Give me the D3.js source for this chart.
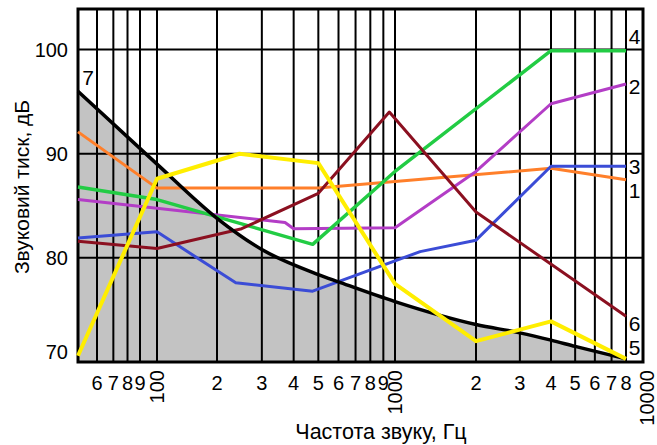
<!DOCTYPE html>
<html><head><meta charset="utf-8">
<script src="https://cdn.jsdelivr.net/npm/d3@7"></script>
<style>
body{margin:0;background:#fff}
text{font-family:"Liberation Sans",Arial,sans-serif;fill:#000}
</style>
</head><body>
<svg id="chart" width="657" height="445"></svg>
<script>
// ---- data ----
const seriesNames = ["1","2","3","4","5","6","7"];
const s1Freq = [50,100,500,4000,8000];
const s1Db   = [92.1,86.7,86.7,88.6,87.5];
const s2Freq = [50,370,400,1000,2000,4000,8000];
const s2Db   = [85.6,83.4,82.8,82.9,88.3,94.8,96.7];
const s3Freq = [50,100,237,475,1240,2000,4000,8000];
const s3Db   = [81.9,82.5,77.6,76.8,80.6,81.7,88.8,88.8];
const s4Freq = [50,100,475,1000,4000,8000];
const s4Db   = [86.8,85.6,81.3,88.3,99.9,99.9];
const s5Freq = [50,100,245,500,1000,2000,4000,8000];
const s5Db   = [70.6,87.6,90.0,89.1,77.5,72.0,73.9,70.3];
const s6Freq = [50,100,250,500,950,2000,8000];
const s6Db   = [81.6,80.9,82.8,86.2,94.0,84.4,74.4];
const s7Freq = [50,100,200,300,500,600,1000,2000,3000,4000,5000,8000];
const s7Db   = [96.0,89.0,83.8,80.8,78.4,77.7,75.8,73.6,72.8,72.1,71.5,70.3];

const xTickValues = [60,70,80,90,100,200,300,400,500,600,700,800,900,1000,2000,3000,4000,5000,6000,7000,8000,10000];
const xTickLabels = ["6","7","8","9","100","2","3","4","5","6","7","8","9","1000","2","3","4","5","6","7","8","10000"];
const yTickValues = [70,80,90,100];
const yTickLabels = ["70","80","90","100"];
const xTitle = "Частота звуку, Гц";
const yTitle = "Звуковий тиск, дБ";

// ---- scales (hand-drawn log grid, piecewise log) ----
const x = d3.scaleLog()
  .domain([50,60,90,100,200,1000,2000,8000,10000])
  .range([78,97,140,157,217,395,476,626,643]);
const y = d3.scaleLinear().domain([70,103.9]).range([362,9]);

const svg = d3.select("#chart");
const toPts = (f,v) => f.map((d,i)=>({f:d,v:v[i]}));

// gray area under curve 7
const s7 = toPts(s7Freq,s7Db);
svg.append("path").datum(s7)
  .attr("fill","#c3c3c3")
  .attr("d", d3.area().x(d=>x(d.f)).y0(y(70)).y1(d=>y(d.v)).curve(d3.curveMonotoneX));

// grid
const g = svg.append("g").attr("stroke","#000").attr("stroke-width",2);
g.selectAll("line.v").data(xTickValues.filter(v=>v<10000)).join("line")
  .attr("x1",d=>x(d)).attr("x2",d=>x(d)).attr("y1",y(103.9)).attr("y2",y(70));
g.selectAll("line.h").data([80,90,100]).join("line")
  .attr("x1",x(50)).attr("x2",x(10000)).attr("y1",d=>y(d)).attr("y2",d=>y(d));
svg.append("rect").attr("x",x(50)).attr("y",y(103.9))
  .attr("width",x(10000)-x(50)).attr("height",y(70)-y(103.9))
  .attr("fill","none").attr("stroke","#000").attr("stroke-width",3);

// series
const line = d3.line().x(d=>x(d.f)).y(d=>y(d.v));
const series = [
  {pts:toPts(s1Freq,s1Db), color:"#ff7f2a", w:3},
  {pts:toPts(s2Freq,s2Db), color:"#b33dc6", w:3},
  {pts:toPts(s3Freq,s3Db), color:"#3b4cd6", w:3},
  {pts:toPts(s4Freq,s4Db), color:"#22cc44", w:3.5},
  {pts:toPts(s6Freq,s6Db), color:"#8b1020", w:3},
];
series.forEach(s=>{
  svg.append("path").datum(s.pts).attr("fill","none")
    .attr("stroke",s.color).attr("stroke-width",s.w)
    .attr("stroke-linejoin","round").attr("d",line);
});
svg.append("path").datum(s7).attr("fill","none").attr("stroke","#000")
  .attr("stroke-width",3.5).attr("d",line.curve(d3.curveMonotoneX));
line.curve(d3.curveLinear);
svg.append("path").datum(toPts(s5Freq,s5Db)).attr("fill","none")
  .attr("stroke","#ffee00").attr("stroke-width",4)
  .attr("stroke-linejoin","round").attr("d",line);

// series labels
const fs = 20;
const labX = (x(8000)+x(10000))/2;
const endLabels = [
  {t:"4", yy:y(s4Db[s4Db.length-1])-14},
  {t:"2", yy:y(s2Db[s2Db.length-1])+3},
  {t:"3", yy:y(s3Db[s3Db.length-1])},
  {t:"1", yy:y(s1Db[s1Db.length-1])+11},
  {t:"6", yy:y(s6Db[s6Db.length-1])+7},
  {t:"5", yy:y(s5Db[s5Db.length-1])-11},
];
svg.selectAll("text.end").data(endLabels).join("text")
  .attr("x",labX).attr("y",d=>d.yy).attr("dy","0.35em")
  .attr("text-anchor","middle").attr("font-size",21).text(d=>d.t);
svg.append("text").attr("x",x(50)+10).attr("y",y(s7Db[0])-14).attr("dy","0.35em")
  .attr("text-anchor","middle").attr("font-size",21).text("7");

// y tick labels
svg.selectAll("text.yt").data(yTickValues).join("text")
  .attr("x",x(50)-10).attr("y",d=>y(d)-(d===70?10:0)).attr("dy","0.35em")
  .attr("text-anchor","end").attr("font-size",fs)
  .text((d,i)=>yTickLabels[i]);

// x tick labels
xTickValues.forEach((v,i)=>{
  const lab = xTickLabels[i];
  if (lab.length>1){
    svg.append("text")
      .attr("transform",`translate(${x(v)+(v===10000?4:0)},370) rotate(-90)`)
      .attr("dy","0.35em").attr("text-anchor","end").attr("font-size",fs).text(lab);
  } else {
    svg.append("text").attr("x",x(v)).attr("y",390)
      .attr("text-anchor","middle").attr("font-size",fs).text(lab);
  }
});

// titles
svg.append("text").attr("x",381).attr("y",439).attr("text-anchor","middle")
  .attr("font-size",21.5).text(xTitle);
svg.append("text").attr("transform","translate(22,187) rotate(-90)")
  .attr("dy","0.35em").attr("text-anchor","middle").attr("font-size",21).text(yTitle);
</script>
</body></html>
